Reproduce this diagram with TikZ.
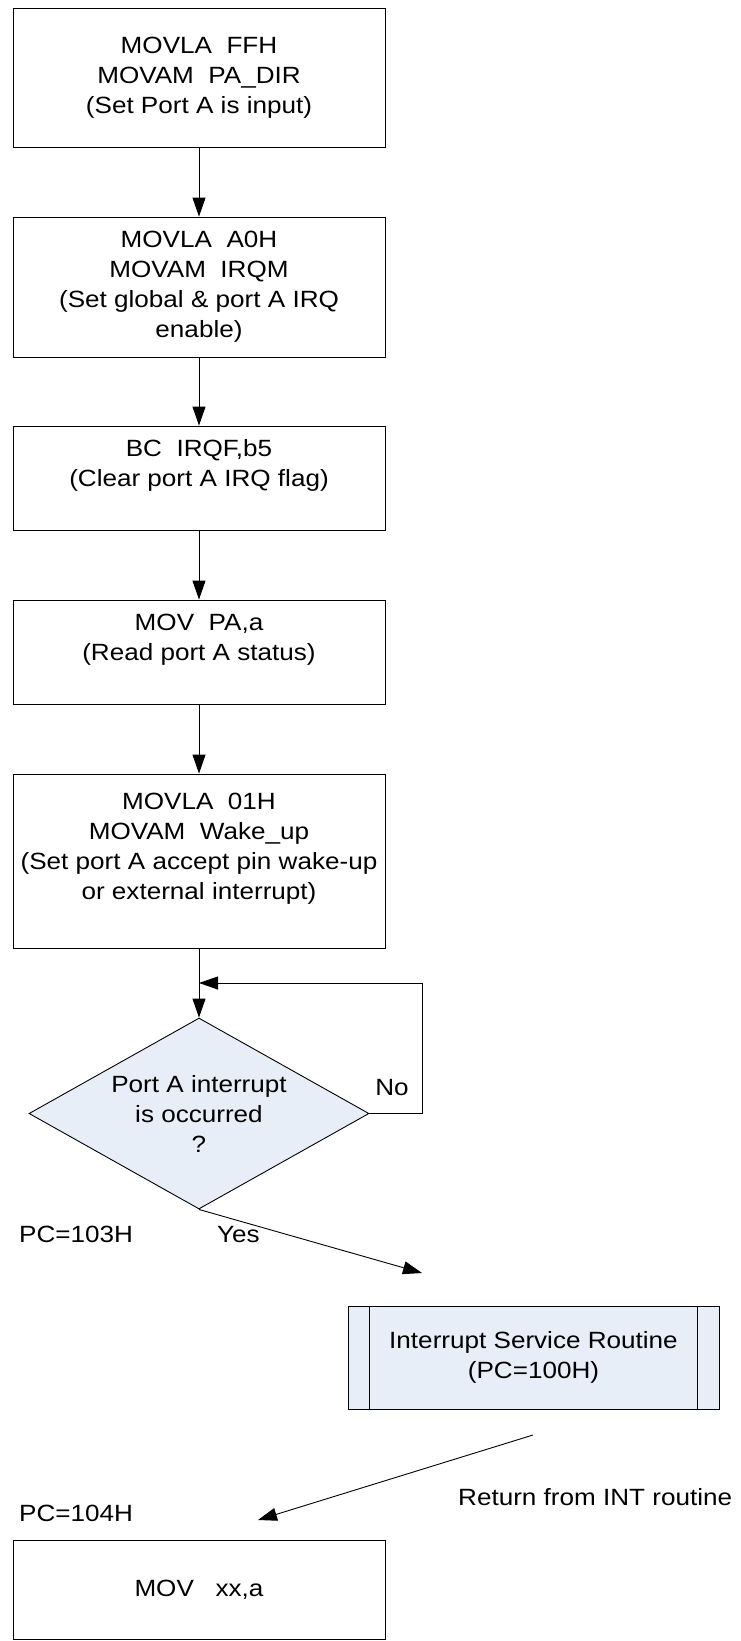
\documentclass[tikz,border=0pt]{standalone}
\usepackage{fontspec}
\setmainfont[FakeStretch=1.11]{Liberation Sans}
\usetikzlibrary{arrows.meta,shapes.geometric}
\definecolor{lightfill}{RGB}{232,238,248}
\newcommand{\figfont}{\fontsize{23.5}{30}\selectfont}
\begin{document}
\begin{tikzpicture}[x=1pt,y=-1pt,
  every node/.style={font=\figfont},
  stepbox/.style={draw=black, line width=0.9pt, minimum width=372pt, inner sep=0pt, align=center},
  decbox/.style={draw=black, line width=0.9pt, fill=lightfill, shape=diamond, minimum width=340pt, minimum height=191pt, inner sep=0pt},
  subbox/.style={draw=black, line width=0.9pt, fill=lightfill, minimum width=371pt, minimum height=103pt, inner sep=0pt, align=center},
  txt/.style={inner sep=0pt, align=center},
  arr/.style={line width=0.9pt, -{Triangle[length=19pt,width=13pt]}},
  conn/.style={line width=0.9pt}
]
\useasboundingbox (0,0) rectangle (740,1641);

% process boxes
\node[stepbox, minimum height=139pt] (b1) at (199,77.5) {MOVLA\ \ FFH\\MOVAM\ \ PA\_DIR\\(Set Port A is input)};
\node[stepbox, minimum height=140pt] (b2) at (199,287) {MOVLA\ \ A0H\\MOVAM\ \ IRQM\\(Set global \& port A IRQ\\enable)};
\node[stepbox, minimum height=104pt] (b3) at (199,478) {BC\ \ IRQF,b5\\(Clear port A IRQ flag)\\\mbox{}};
\node[stepbox, minimum height=104pt] (b4) at (199,652) {MOV\ \ PA,a\\(Read port A status)\\\mbox{}};
\node[stepbox, minimum height=174pt] (b5) at (199,861) {MOVLA\ \ 01H\\MOVAM\ \ Wake\_up\\(Set port A accept pin wake-up\\or external interrupt)\\\mbox{}};

% decision
\node[decbox] (dec) at (199,1113.5) {};
\node[txt] (dectxt) at (dec.center) {Port A interrupt\\is occurred\\?};

% interrupt service routine (predefined process)
\node[subbox] (isr) at (533.5,1357.5) {Interrupt Service Routine\\(PC=100H)};
\draw[conn] ([xshift=22pt]isr.north west) -- ([xshift=22pt]isr.south west);
\draw[conn] ([xshift=-22pt]isr.north east) -- ([xshift=-22pt]isr.south east);

% final box
\node[stepbox, minimum height=99pt] (b6) at (199,1589.5) {MOV\ \ \ xx,a};

% coordinates
\coordinate (join) at (199,983);
\coordinate (loopc) at (422,983);
\coordinate (yesend) at (422,1273);
\coordinate (retstart) at (533,1435);
\coordinate (retend) at (258,1520);

% connectors
\draw[arr] (b1.south) -- (b2.north);
\draw[arr] (b2.south) -- (b3.north);
\draw[arr] (b3.south) -- (b4.north);
\draw[arr] (b4.south) -- (b5.north);
\draw[arr] (b5.south) -- (dec.north);
\draw[arr] (dec.east) -| (loopc) -- (join);
\draw[arr] (dec.south) -- (yesend);
\draw[arr] (retstart) -- (retend);

% labels
\node[txt] (lno) at (392,1087.5) {No};
\node[txt, anchor=west] (lyes) at (217,1234.5) {Yes};
\node[txt, anchor=west] (lpc3) at (19,1234.5) {PC=103H};
\node[txt, anchor=west] (lret) at (458,1497.5) {Return from INT routine};
\node[txt, anchor=west] (lpc4) at (19,1513.5) {PC=104H};
\end{tikzpicture}
\end{document}
